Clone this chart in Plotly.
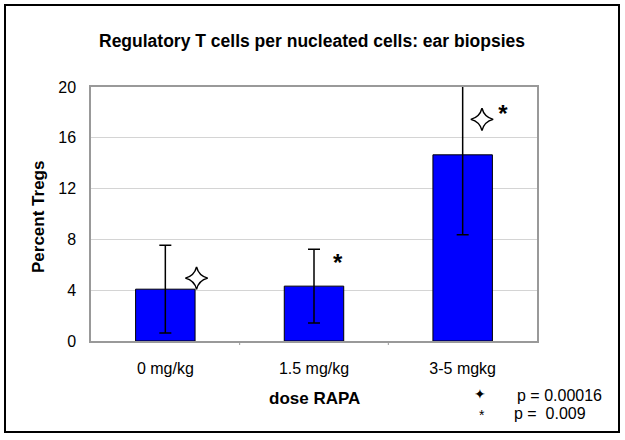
import plotly.graph_objects as go

categories = ["0 mg/kg", "1.5 mg/kg", "3-5 mgkg"]
percent_tregs = [4.08, 4.32, 14.66]
error_sd = [3.45, 2.9, 6.3]

# significance markers: x position in category units, y value
star_x = [0.21, 2.13]
star_y = [4.95, 17.45]
ast_x = [1.16, 2.27]
ast_y = [6.0, 17.7]

FONT = "Liberation Sans, Arial, sans-serif"

# pixel geometry of plot area
L, R, T, B = 91, 537, 87, 341
W, H = R - L, B - T


def px(x):
    return (x - L) / W


def py(y):
    return (B - y) / H


fig = go.Figure()
fig.add_trace(go.Bar(
    x=[0, 1, 2], y=percent_tregs, width=0.4,
    marker=dict(color="#0000FF", line=dict(color="black", width=1)),
    error_y=dict(type="data", array=error_sd, visible=True, color="black",
                 thickness=1.5, width=6),
    showlegend=False, hoverinfo="skip"))

fig.add_trace(go.Scatter(
    x=star_x, y=star_y, mode="markers",
    marker=dict(symbol="star-diamond", size=16, color="white",
                line=dict(color="black", width=1.5)),
    showlegend=False, hoverinfo="skip"))

fig.add_trace(go.Scatter(
    x=ast_x, y=ast_y, mode="text", text=["<b>*</b>", "<b>*</b>"],
    textfont=dict(size=24, color="black", family=FONT),
    showlegend=False, hoverinfo="skip"))

fig.update_layout(
    width=625, height=440,
    margin=dict(l=L, r=625 - R, t=T, b=440 - B),
    paper_bgcolor="white", plot_bgcolor="white",
    font=dict(family=FONT, color="black"),
    xaxis=dict(range=[-0.5, 2.5], tickvals=[0, 1, 2], ticktext=categories,
               showline=True, linecolor="#999999", linewidth=1.5, mirror=True,
               tickfont=dict(size=16), ticks="", showgrid=False,
               ticklabelstandoff=12, zeroline=False),
    yaxis=dict(range=[0, 20], tickvals=[0, 4, 8, 12, 16, 20],
               showgrid=True, gridcolor="#D4D4D4", gridwidth=1,
               showline=True, linecolor="#999999", linewidth=1.5, mirror=True,
               tickfont=dict(size=16), zeroline=False, ticks="",
               ticklabelstandoff=10),
)

# small boundary tick marks on x axis
for xb in [0.5, 1.5]:
    fig.add_shape(type="line", xref="x", yref="paper", x0=xb, x1=xb,
                  y0=0, y1=-4 / H, line=dict(color="#999999", width=1))


def ann(text, x, y, size, xanchor="center", **kw):
    return dict(text=text, x=px(x), y=py(y), xref="paper", yref="paper",
                xanchor=xanchor, yanchor="middle", showarrow=False,
                font=dict(size=size, **kw.pop("font_extra", {})), **kw)


annotations = [
    ann("<b>Regulatory T cells per nucleated cells: ear biopsies</b>", 312, 41, 17.5),
    ann("<b>Percent Tregs</b>", 38, 217, 17, textangle=-90),
    ann("<b>dose RAPA</b>", 314, 398, 17),
    ann("p = 0.00016", 515, 395, 16, xanchor="left"),
    ann("p =  0.009", 512, 413, 16, xanchor="left"),
    ann("*", 482, 415, 14),
    ann("\u2726", 480, 394, 14, font_extra=dict(family="DejaVu Sans")),
]
fig.update_layout(annotations=annotations)

fig.add_shape(type="rect", xref="paper", yref="paper",
              x0=px(5), x1=px(619), y0=py(432), y1=py(5),
              line=dict(color="black", width=2))

fig.write_html("out.html", config={"displayModeBar": False},
               post_script="document.body.style.margin='0';")
